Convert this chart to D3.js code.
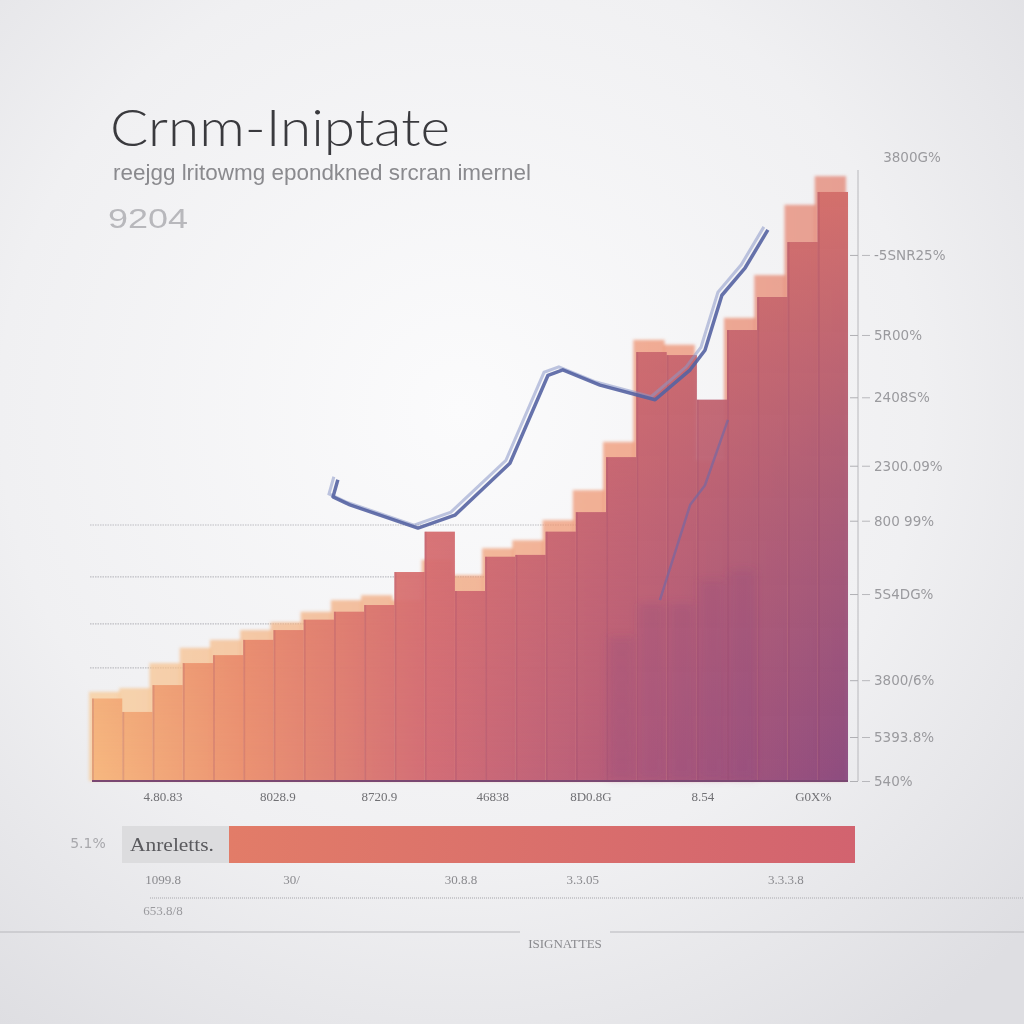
<!DOCTYPE html>
<html><head><meta charset="utf-8">
<script src="https://cdn.jsdelivr.net/npm/d3@7/dist/d3.min.js"></script>
<style>html,body{margin:0;padding:0;background:#eee;}svg{display:block;}</style>
</head><body>
<script>
// ---- data ----
const categories = d3.range(25).map(i => "c" + (i + 1));
const frontValues = [13.5,11.3,15.7,19.3,20.6,23.1,24.7,26.4,27.7,28.8,34.2,40.8,31.1,36.7,37.0,40.8,44.0,53.0,70.2,69.7,62.4,73.8,79.2,88.2,96.4];
const backValues  = [14.6,15.2,19.3,21.8,23.1,24.7,26.0,27.7,29.6,30.4,29.6,36.2,33.7,38.1,39.4,42.7,47.6,55.5,72.2,71.4,52.5,75.8,82.8,94.3,99.0];
const lowerValues = [0,0,0,0,0,0,0,0,0,0,0,0,0,0,0,0,0,23.6,29.1,29.1,32.9,34.5,0,0,0];
const lineX = [8.13,7.97,8.53,10.78,12.0,13.82,15.08,15.57,16.8,18.62,19.78,20.27,20.83,21.6,22.35];
const lineY = [49.3,46.5,45.2,41.4,43.5,52.0,66.4,67.3,64.8,62.4,67.3,70.5,79.5,84.0,90.2];
const line2X = [18.78,19.78,20.27,21.03];
const line2Y = [29.6,45.2,48.4,59.1];
const gridValues = [41.9,33.4,25.7,18.5];
const yTickValues = [86.1,73.0,62.8,51.6,42.6,30.6,16.5,7.2,0];
const yTickLabels = ["-5SNR25%","5R00%","2408S%","2300.09%","800 99%","5S4DG%","3800/6%","5393.8%","540%"];
const yTopLabel = "3800G%";
const xTickPos = [2.35,6.15,9.5,13.25,16.5,20.2,23.85];
const xTickLabels = ["4.80.83","8028.9","8720.9","46838","8D0.8G","8.54","G0X%"];
const title = "Crnm-Iniptate";
const subtitle = "reejgg lritowmg epondkned srcran imernel";
const yearLabel = "9204";
const summaryLabel = "Anreletts.";
const summaryValue = 100;
const summaryLeftLabel = "5.1%";
const summaryTicksPos = [0,19,44,62,92];
const summaryTickLabels = ["1099.8","30/","30.8.8","3.3.05","3.3.3.8"];
const footLabel = "653.8/8";
const bottomLabel = "ISIGNATTES";

// ---- layout ----
const W = 1024, H = 1024;
const svg = d3.select("body").append("svg").attr("width", W).attr("height", H);
const defs = svg.append("defs");

const bg = defs.append("radialGradient").attr("id","bg").attr("cx","45%").attr("cy","40%").attr("r","75%");
bg.append("stop").attr("offset","0%").attr("stop-color","#fbfbfc");
bg.append("stop").attr("offset","60%").attr("stop-color","#f0f0f2");
bg.append("stop").attr("offset","100%").attr("stop-color","#dedee2");
svg.append("rect").attr("width",W).attr("height",H).attr("fill","url(#bg)");

const pLeft = 92, pRight = 848, pBase = 781, pTop = 170;
const x = d3.scaleBand().domain(categories).range([pLeft, pRight]).padding(0);
const xLin = d3.scaleLinear().domain([0, categories.length]).range([pLeft, pRight]);
const y = d3.scaleLinear().domain([0, 100]).range([pBase, pTop]);

// gradients
function hGrad(id, stops){
  const g = defs.append("linearGradient").attr("id",id).attr("gradientUnits","userSpaceOnUse")
    .attr("x1",pLeft).attr("x2",pRight).attr("y1",0).attr("y2",0);
  stops.forEach(s => g.append("stop").attr("offset",s[0]).attr("stop-color",s[1]));
}
hGrad("hg", [["0%","#f6b67c"],["20%","#ea8f6e"],["45%","#d06874"],["70%","#b05678"],["100%","#86467e"]]);
hGrad("hb", [["0%","#f8c890"],["40%","#f0a274"],["75%","#ec8a68"],["100%","#e07a68"]]);
const vg = defs.append("linearGradient").attr("id","vg").attr("gradientUnits","userSpaceOnUse")
  .attr("x1",0).attr("x2",0).attr("y1",pTop).attr("y2",pBase);
vg.append("stop").attr("offset","0%").attr("stop-color","#e87a66").attr("stop-opacity",0.8);
vg.append("stop").attr("offset","55%").attr("stop-color","#e07868").attr("stop-opacity",0.35);
vg.append("stop").attr("offset","100%").attr("stop-color","#e07868").attr("stop-opacity",0);
const sg = defs.append("linearGradient").attr("id","sg").attr("x1","0%").attr("x2","100%");
sg.append("stop").attr("offset","0%").attr("stop-color","#e27c68");
sg.append("stop").attr("offset","100%").attr("stop-color","#d2636f");
const blur = defs.append("filter").attr("id","blur").attr("x","-10%").attr("y","-10%").attr("width","120%").attr("height","120%");
blur.append("feGaussianBlur").attr("stdDeviation",1.5);
const blur2 = defs.append("filter").attr("id","blur2").attr("x","-30%").attr("y","-10%").attr("width","160%").attr("height","120%");
blur2.append("feGaussianBlur").attr("stdDeviation",4);

// gridlines
svg.append("g").selectAll("line").data(gridValues).join("line")
  .attr("x1",90).attr("x2",pRight).attr("y1",d=>y(d)).attr("y2",d=>y(d))
  .attr("stroke","#bdbdc2").attr("stroke-width",1.2).attr("stroke-dasharray","1.5,1");

const bw = x.bandwidth();
// back bars (lighter caps)
svg.append("g").attr("filter","url(#blur)").selectAll("rect").data(backValues).join("rect")
  .attr("x",(d,i)=>x(categories[i]) - 3).attr("width",bw + 1)
  .attr("y",d=>y(d)).attr("height",d=>pBase - y(d))
  .attr("fill","url(#hb)").attr("opacity",0.7);
// front bars
const fg = svg.append("g");
fg.selectAll("rect.f").data(frontValues).join("rect").attr("class","f")
  .attr("x",(d,i)=>x(categories[i])).attr("width",bw)
  .attr("y",d=>y(d)).attr("height",d=>pBase - y(d))
  .attr("fill","url(#hg)").attr("opacity",0.93);
fg.selectAll("rect.o").data(frontValues).join("rect").attr("class","o")
  .attr("x",(d,i)=>x(categories[i])).attr("width",bw)
  .attr("y",d=>y(d)).attr("height",d=>pBase - y(d))
  .attr("fill","url(#vg)");
// purple lower overlays
fg.append("g").attr("filter","url(#blur2)").selectAll("rect.l").data(lowerValues).join("rect").attr("class","l")
  .attr("x",(d,i)=>x(categories[i]) + 2).attr("width",bw - 4)
  .attr("y",d=>y(d)).attr("height",d=>pBase - y(d) - 2)
  .attr("fill","#874681").attr("opacity",0.2);
// dark edges
fg.selectAll("line").data(frontValues).join("line")
  .attr("x1",(d,i)=>x(categories[i]) + 1).attr("x2",(d,i)=>x(categories[i]) + 1)
  .attr("y1",d=>y(d)).attr("y2",pBase).attr("stroke","#8a3c6a").attr("stroke-width",2).attr("stroke-opacity",0.18);

// lines
const lineGen = d3.line().x(d=>xLin(d[0])).y(d=>y(d[1])).curve(d3.curveLinear);
const pts = lineX.map((v,i)=>[v,lineY[i]]);
const pts2 = line2X.map((v,i)=>[v,line2Y[i]]);
svg.append("path").attr("d",lineGen(pts)).attr("fill","none").attr("stroke","#8b98c8")
  .attr("stroke-width",3).attr("opacity",0.55).attr("transform","translate(-4,-3)");
svg.append("path").attr("d",lineGen(pts)).attr("fill","none").attr("stroke","#5563a2")
  .attr("stroke-width",3.5).attr("stroke-linejoin","round").attr("opacity",0.9);
svg.append("path").attr("d",lineGen(pts2)).attr("fill","none").attr("stroke","#6a68a8")
  .attr("stroke-width",2.5).attr("opacity",0.6);

// baseline
svg.append("line").attr("x1",pLeft).attr("x2",pRight).attr("y1",pBase).attr("y2",pBase)
  .attr("stroke","#7a4872").attr("stroke-width",2);

// right axis
const axisX = 858;
const ax = svg.append("g").attr("transform",`translate(${axisX},0)`)
  .call(d3.axisRight(y).tickValues(yTickValues).tickFormat((d,i)=>yTickLabels[i]).tickSize(0).tickPadding(10));
ax.select(".domain").attr("stroke","#b8b8bc").attr("d",`M0,${pTop}V${pBase}`);
ax.selectAll("text").attr("fill","#9a9a9e").attr("font-family","DejaVu Sans").attr("font-size",13.5).attr("dx",6);
ax.selectAll(".tick").append("line").attr("x1",-8).attr("x2",0).attr("stroke","#b0b0b4");
ax.selectAll(".tick").append("line").attr("x1",4).attr("x2",12).attr("stroke","#b8b8bc");
svg.append("text").attr("x",912).attr("y",162).attr("text-anchor","middle").attr("fill","#9a9a9e")
  .attr("font-family","DejaVu Sans").attr("font-size",13.5).text(yTopLabel);

// x tick labels
svg.append("g").selectAll("text").data(xTickPos).join("text")
  .attr("x",d=>xLin(d)).attr("y",801).attr("text-anchor","middle")
  .attr("fill","#707074").attr("font-family","Liberation Serif").attr("font-size",13)
  .text((d,i)=>xTickLabels[i]);

// titles
svg.append("text").attr("x",110).attr("y",146).attr("fill","#3a3a3e")
  .attr("font-family","Lato").attr("font-weight",300).attr("font-size",52)
  .attr("textLength",340).attr("lengthAdjust","spacingAndGlyphs").text(title);
svg.append("text").attr("x",113).attr("y",180).attr("fill","#8a8a8e")
  .attr("font-family","Liberation Sans Narrow, Liberation Sans").attr("font-size",22)
  .attr("textLength",418).attr("lengthAdjust","spacingAndGlyphs").text(subtitle);
svg.append("text").attr("x",108).attr("y",228).attr("fill","#b8b8bc")
  .attr("font-family","Liberation Sans Narrow, Liberation Sans").attr("font-size",28)
  .attr("textLength",80).attr("lengthAdjust","spacingAndGlyphs").text(yearLabel);

// summary bar
const sx = d3.scaleLinear().domain([0, summaryValue]).range([229, 855]);
svg.append("rect").attr("x",122).attr("y",826).attr("width",107).attr("height",37).attr("fill","#dcdcde");
svg.append("text").attr("x",130).attr("y",851).attr("fill","#5a5a5e").attr("font-family","Liberation Serif")
  .attr("font-size",19).attr("textLength",84).attr("lengthAdjust","spacingAndGlyphs").text(summaryLabel);
svg.append("rect").attr("x",sx(0)).attr("y",826).attr("width",sx(summaryValue)-sx(0)).attr("height",37).attr("fill","url(#sg)");
svg.append("text").attr("x",88).attr("y",848).attr("text-anchor","middle").attr("fill","#a8a8ac")
  .attr("font-family","DejaVu Sans").attr("font-size",14).text(summaryLeftLabel);
const tx = d3.scaleLinear().domain([0,100]).range([163,840]);
svg.append("g").selectAll("text").data(summaryTicksPos).join("text")
  .attr("x",d=>tx(d)).attr("y",884).attr("text-anchor","middle")
  .attr("fill","#8a8a8e").attr("font-family","Liberation Serif").attr("font-size",13)
  .text((d,i)=>summaryTickLabels[i]);
svg.append("line").attr("x1",150).attr("x2",1024).attr("y1",898).attr("y2",898).attr("stroke","#c8c8cc").attr("stroke-width",2).attr("stroke-dasharray","1,1");
svg.append("text").attr("x",163).attr("y",915).attr("text-anchor","middle").attr("fill","#9a9a9e")
  .attr("font-family","Liberation Serif").attr("font-size",13).text(footLabel);
svg.append("line").attr("x1",0).attr("x2",520).attr("y1",932).attr("y2",932).attr("stroke","#b8b8bc").attr("stroke-width",1.2);
svg.append("line").attr("x1",610).attr("x2",1024).attr("y1",932).attr("y2",932).attr("stroke","#b8b8bc").attr("stroke-width",1.2);
svg.append("text").attr("x",565).attr("y",948).attr("text-anchor","middle").attr("fill","#8a8a8e")
  .attr("font-family","Liberation Serif").attr("font-size",13).text(bottomLabel);
</script>
</body></html>
